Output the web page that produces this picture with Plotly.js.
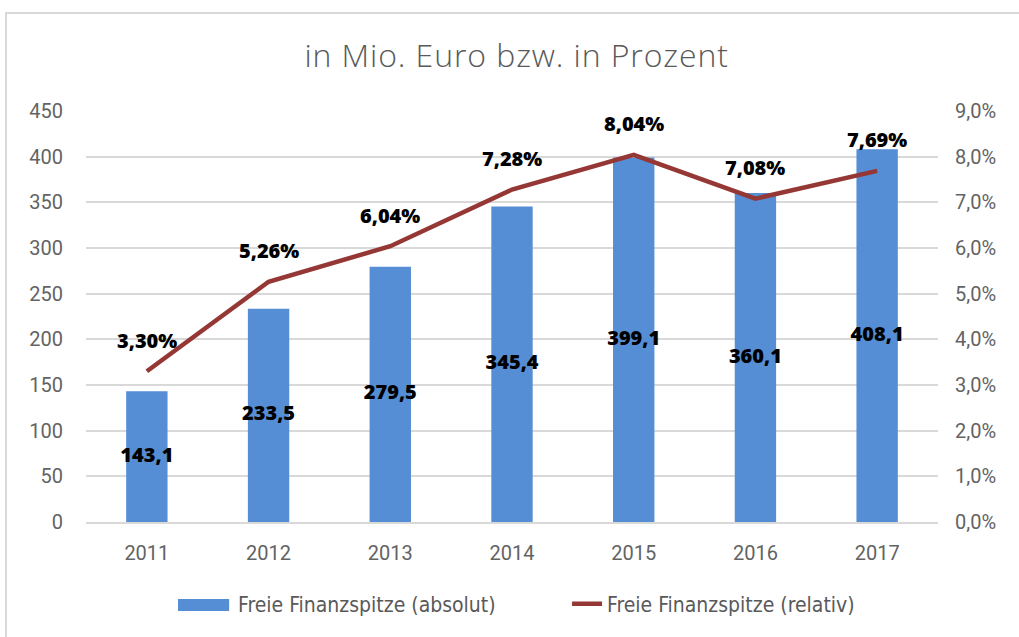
<!DOCTYPE html>
<html><head><meta charset="utf-8">
<script src="https://cdn.plot.ly/plotly-3.0.1.min.js"></script>
<style>
html,body{margin:0;padding:0;background:#fff;overflow:hidden;}
#frame{position:absolute;left:5px;top:12px;width:1100px;height:700px;border:2px solid #D9D9D9;box-sizing:border-box;}
#chart{position:absolute;left:0;top:0;width:1019px;height:637px;}
#chart .gtitle{letter-spacing:0.9px;}
#chart g.legend .legendpoints{opacity:0;}
</style></head>
<body>
<div id="frame"></div>
<div id="chart"></div>
<script>
const years = ['2011','2012','2013','2014','2015','2016','2017'];
const absolut = [143.1, 233.5, 279.5, 345.4, 399.1, 360.1, 408.1];
const relativ = [3.30, 5.26, 6.04, 7.28, 8.04, 7.08, 7.69];
const leftTicks = [0,50,100,150,200,250,300,350,400,450];
const rightTicks = [0,1,2,3,4,5,6,7,8,9];

const fmt = (v, d) => v.toFixed(d).replace('.', ',');
const barColor = '#558ED5';
const lineColor = '#953735';
const tickFont = {family: 'Roboto, sans-serif', size: 20, color: '#636363'};
const labelFont = () => ({family: '"Open Sans", sans-serif', size: 20, color: '#000', weight: 800});
const legendFont = {family: '"DejaVu Sans Condensed", sans-serif', size: 21, color: '#595959'};

const bars = {
  type: 'bar', x: years, y: absolut, name: 'Freie Finanzspitze (absolut)',
  marker: {color: barColor}, width: 0.34
};
const line = {
  type: 'scatter', mode: 'lines', x: years, y: relativ, yaxis: 'y2',
  name: 'Freie Finanzspitze (relativ)', legend: 'legend2',
  line: {color: lineColor, width: 4.5}
};
const barLabels = {
  type: 'scatter', mode: 'text', x: years, y: absolut.map(v => v / 2),
  text: absolut.map(v => fmt(v, 1)), textposition: 'middle center',
  textfont: labelFont(), showlegend: false, cliponaxis: false
};
const annotations = relativ.map((v, i) => ({
  x: i, y: v, xref: 'x', yref: 'y2', text: fmt(v, 2) + '%',
  showarrow: false, yshift: 31, font: labelFont()
}));

const layout = {
  width: 1019, height: 637,
  margin: {l: 86, r: 81, t: 111, b: 115},
  paper_bgcolor: 'rgba(0,0,0,0)', plot_bgcolor: 'rgba(0,0,0,0)',
  separators: ',.',
  title: {text: 'in Mio. Euro bzw. in Prozent', font: {family: '"Open Sans", sans-serif', size: 32, color: '#595959', weight: 300},
          x: 0.507, xanchor: 'center', y: 0.913, yanchor: 'middle'},
  xaxis: {type: 'category', tickfont: tickFont, showgrid: false, showline: true, linecolor: '#D9D9D9', linewidth: 1.5,
          ticks: '', ticklabelstandoff: 12, range: [-0.5, 6.5]},
  yaxis: {range: [0, 450], tickvals: leftTicks, ticktext: leftTicks.map(String), tickfont: tickFont,
          showgrid: true, gridcolor: '#D9D9D9', gridwidth: 1.5, zeroline: false, ticks: '',
          ticklabelstandoff: 22, showline: false},
  yaxis2: {overlaying: 'y', side: 'right', range: [0, 9], tickvals: rightTicks,
           ticktext: rightTicks.map(v => fmt(v, 1) + '%'), tickfont: tickFont,
           showgrid: false, zeroline: false, ticks: '', ticklabelstandoff: 16},
  legend: {orientation: 'h', x: 0.1315, xanchor: 'left', y: -0.2, yanchor: 'middle', font: legendFont},
  legend2: {orientation: 'h', x: 0.5646, xanchor: 'left', y: -0.2, yanchor: 'middle', font: legendFont},
  shapes: [{type: 'rect', xref: 'paper', yref: 'paper', x0: 0.108, x1: 0.168, y0: -0.2165, y1: -0.1873,
            fillcolor: barColor, line: {width: 0}}],
  showlegend: true,
  annotations: annotations,
  bargap: 0.66
};
Plotly.newPlot('chart', [bars, line, barLabels], layout, {displayModeBar: false});
</script>
</body></html>
